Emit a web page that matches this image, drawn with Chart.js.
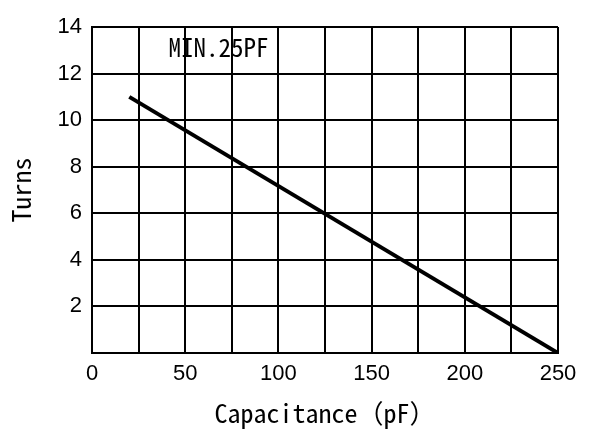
<!DOCTYPE html>
<html>
<head>
<meta charset="utf-8">
<script src="https://cdn.jsdelivr.net/npm/chart.js@4"></script>
<style>
  html, body { margin: 0; padding: 0; background: #fff; }
  #wrap { width: 589px; height: 439px; }
</style>
</head>
<body>
<div id="wrap"><canvas id="grafico"></canvas></div>
<script>
// dados
const capacitancia = [20, 250]
const voltas = [11, 0]
const xMin = 0, xMax = 250, xPasso = 25
const yMin = 0, yMax = 14, yPasso = 2
const nota = 'MIN.25PF'
const notaPos = { x: 41, y: 13.1 }

const fonteTicks = 'Liberation Sans, Arial, sans-serif'
const fonteCJK = '"Noto Sans Mono CJK SC", "Noto Sans CJK SC", "DejaVu Sans Mono", monospace'

// escreve a nota dentro do gráfico
const pluginNota = {
    id: 'nota',
    afterDraw(chart) {
        const ctx = chart.ctx
        const px = chart.scales.x.getPixelForValue(notaPos.x)
        const py = chart.scales.y.getPixelForValue(notaPos.y)
        ctx.save()
        ctx.fillStyle = '#000'
        ctx.font = '25px ' + fonteCJK
        ctx.textAlign = 'left'
        ctx.textBaseline = 'middle'
        ctx.fillText(nota, px, py)
        ctx.restore()
    }
}

const ctx = document.getElementById('grafico')

new Chart(ctx, {
    type: 'line',
    data: {
        datasets: [{
            data: capacitancia.map((c, i) => ({ x: c, y: voltas[i] })),
            borderColor: '#000',
            borderWidth: 4,
            pointRadius: 0,
            fill: false
        }]
    },
    options: {
        responsive: true,
        maintainAspectRatio: false,
        animation: false,
        layout: { padding: { left: 0, top: 27, right: 31, bottom: 0 } },
        plugins: {
            legend: { display: false },
            tooltip: { enabled: false }
        },
        scales: {
            x: {
                type: 'linear',
                min: xMin,
                max: xMax,
                afterFit: (s) => { s.height = 86 },
                grid: { color: '#000', lineWidth: 2, drawTicks: false },
                border: { color: '#000', width: 2 },
                ticks: {
                    stepSize: xPasso,
                    autoSkip: false,
                    maxRotation: 0,
                    padding: 8,
                    color: '#000',
                    font: { family: fonteTicks, size: 22 },
                    callback: (v) => v % 50 === 0 ? v : ''
                },
                title: {
                    display: true,
                    text: 'Capacitance（pF）',
                    color: '#000',
                    font: { family: fonteCJK, size: 26 },
                    padding: { top: 0, bottom: 10 }
                }
            },
            y: {
                min: yMin,
                max: yMax,
                afterFit: (s) => { s.width = 92 },
                grid: { color: '#000', lineWidth: 2, drawTicks: false },
                border: { color: '#000', width: 2 },
                ticks: {
                    stepSize: yPasso,
                    padding: 10,
                    color: '#000',
                    font: { family: fonteTicks, size: 22 },
                    callback: (v) => v === 0 ? '' : v
                },
                title: {
                    display: true,
                    text: 'Turns',
                    color: '#000',
                    font: { family: fonteCJK, size: 26 },
                    padding: { top: 6, bottom: 0 }
                }
            }
        }
    },
    plugins: [pluginNota]
})
</script>
</body>
</html>
